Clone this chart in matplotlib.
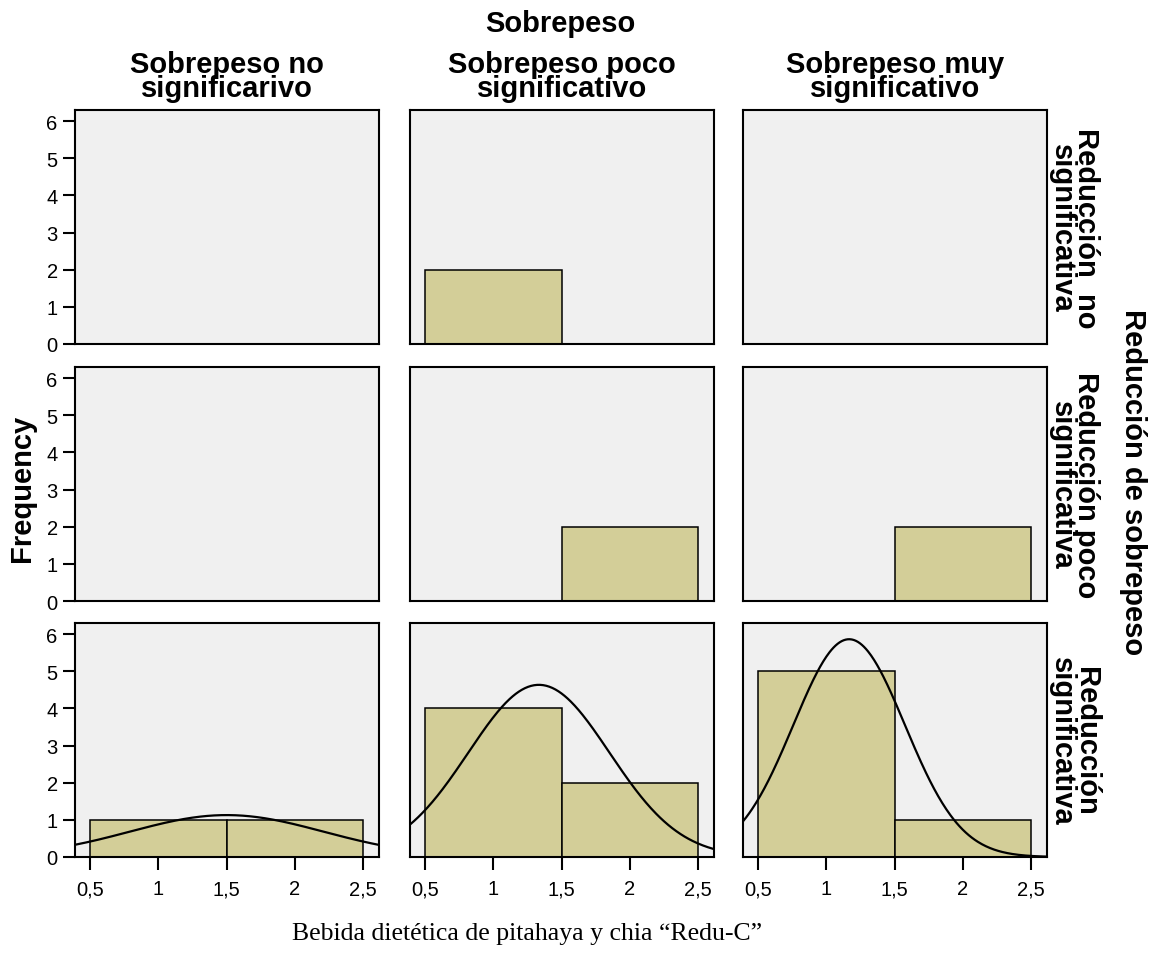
import matplotlib
matplotlib.use("Agg")
import matplotlib.pyplot as plt
import numpy as np

# ── data ────────────────────────────────────────────────────────────────────
bin_values = [1, 2]                      # Redu-C value of each bar
col_labels = ["Sobrepeso no\nsignificarivo",
              "Sobrepeso poco\nsignificativo",
              "Sobrepeso muy\nsignificativo"]
row_labels = ["Reducción  no\nsignificativa",
              "Reducción poco\nsignificativa",
              "Reducción\nsignificativa"]
counts_row1 = [[0, 0], [2, 0], [0, 0]]
counts_row2 = [[0, 0], [0, 2], [0, 2]]
counts_row3 = [[1, 1], [4, 2], [5, 1]]
x_ticks = [0.5, 1, 1.5, 2, 2.5]
x_ticklabels = ["0,5", "1", "1,5", "2", "2,5"]
y_ticks = [0, 1, 2, 3, 4, 5, 6]
# ────────────────────────────────────────────────────────────────────────────

counts = [counts_row1, counts_row2, counts_row3]

W, H = 1158, 954
fig = plt.figure(figsize=(W / 100, H / 100), dpi=100)

SANS = "Liberation Sans"
SERIF = "Liberation Serif"
BAR = "#D3CE98"
BG = "#F0F0F0"

col_left = [75, 410, 743]
col_w = 304
row_top = [111, 368, 624]
row_h = 234
x_lim = (0.39, 2.615)
y_lim = (0, 6.3)

for r in range(3):
    for c in range(3):
        ax = fig.add_axes([col_left[c] / W, 1 - (row_top[r] + row_h) / H,
                           col_w / W, row_h / H])
        ax.set_facecolor(BG)
        cnt = counts[r][c]
        ax.bar(bin_values, cnt, width=1.0, color=BAR, edgecolor="black",
               linewidth=1.1, zorder=2)

        # normal curve fitted to the cell's values
        n = sum(cnt)
        if n > 1:
            obs = np.repeat(bin_values, cnt)
            mu = obs.mean()
            sd = obs.std(ddof=1)
            if sd > 0:
                xs = np.linspace(x_lim[0], x_lim[1], 300)
                ys = n * 1.0 / (sd * np.sqrt(2 * np.pi)) * np.exp(-0.5 * ((xs - mu) / sd) ** 2)
                ax.plot(xs, ys, color="black", linewidth=1.6, zorder=3)

        ax.set_xlim(*x_lim)
        ax.set_ylim(*y_lim)
        for s in ax.spines.values():
            s.set_linewidth(1.5)
            s.set_color("black")
            s.set_zorder(4)

        ax.tick_params(length=9, width=1.5, color="black",
                       labelsize=14.5, pad=3.5)
        ax.set_xticks(x_ticks)
        if r == 2:
            ax.set_xticklabels(x_ticklabels, fontfamily=SANS)
            ax.tick_params(axis="x", length=9.5, pad=6.5)
        else:
            ax.tick_params(axis="x", bottom=False, labelbottom=False)
        ax.set_yticks(y_ticks)
        if c == 0:
            ax.set_yticklabels([str(v) for v in y_ticks], fontfamily=SANS)
        else:
            ax.tick_params(axis="y", left=False, labelleft=False)

# column headers
for c, lab in enumerate(col_labels):
    fig.text((col_left[c] + col_w / 2) / W, 1 - 77 / H, lab,
             ha="center", va="center", fontsize=21, fontweight="bold",
             fontfamily=SANS, linespacing=0.85)

fig.text(560 / W, 1 - 24 / H, "Sobrepeso", ha="center", va="center",
         fontsize=21, fontweight="bold", fontfamily=SANS)

# row headers
for r, lab in enumerate(row_labels):
    fig.text(1074 / W, 1 - (row_top[r] + row_h / 2) / H, lab,
             ha="center", va="center", rotation=-90, fontsize=21,
             fontweight="bold", fontfamily=SANS, linespacing=0.85)

fig.text(1133 / W, 1 - 482 / H, "Reducción de sobrepeso", ha="center",
         va="center", rotation=-90, fontsize=21, fontweight="bold",
         fontfamily=SANS)

fig.text(22 / W, 1 - 488 / H, "Frequency", ha="center", va="center",
         rotation=90, fontsize=21, fontweight="bold", fontfamily=SANS)

fig.text(527 / W, 1 - 934 / H,
         "Bebida dietética de pitahaya y chia \u201cRedu-C\u201d",
         ha="center", va="center", fontsize=18.5, fontfamily=SERIF)

fig.savefig("out.png", dpi=100)
